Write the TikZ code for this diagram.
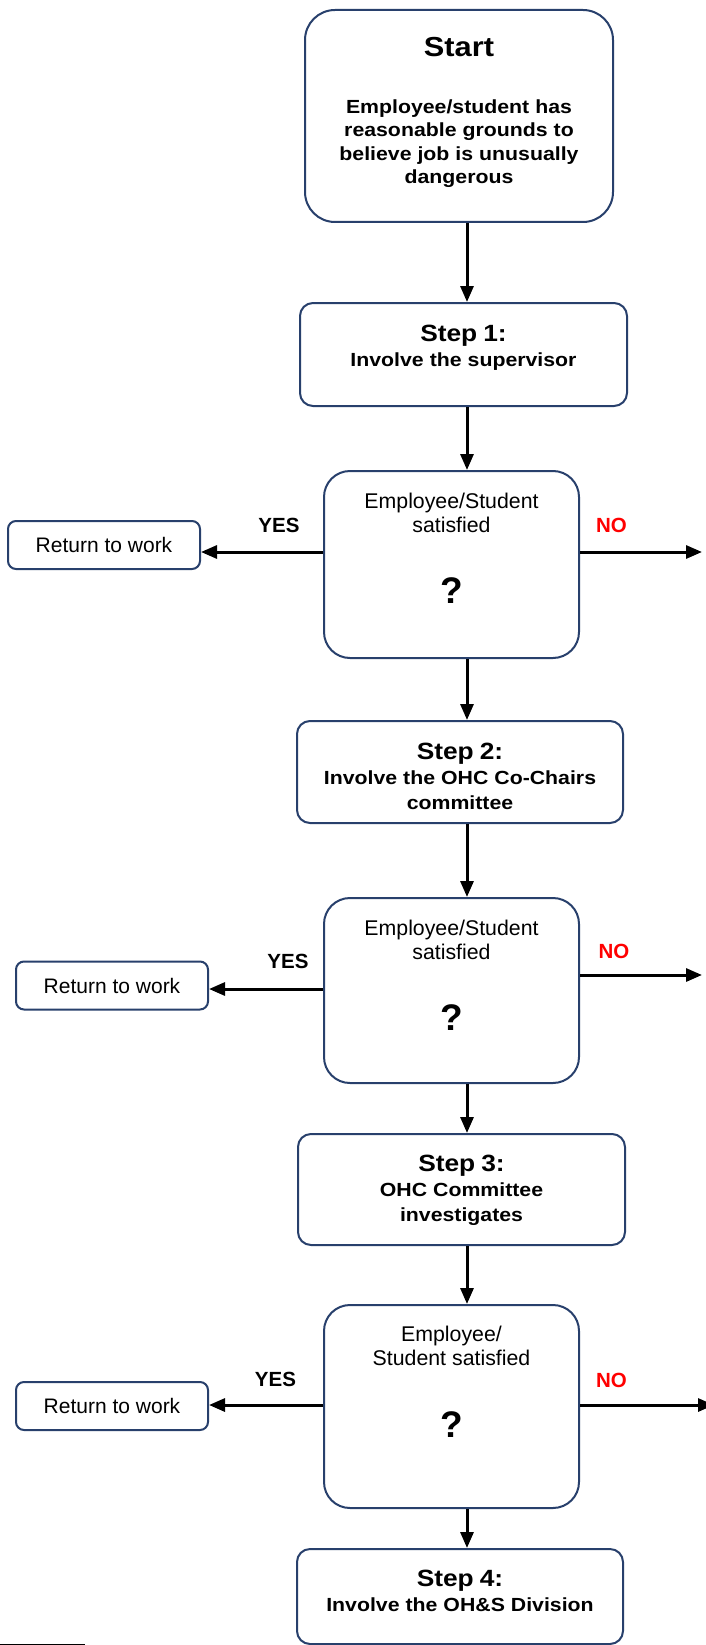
\documentclass[tikz,border=0pt]{standalone}
\usepackage{fontspec}
\setmainfont{Liberation Sans}
\newfontfamily\stepfont{Liberation Sans}[FakeStretch=1.12]
\usetikzlibrary{arrows.meta, positioning}
\definecolor{boxblue}{RGB}{40,64,108}
\newcommand\qmarkfont{\bfseries\fontsize{37}{24}\selectfont}

\begin{document}
\begin{tikzpicture}[x=1pt, y=-1pt,
    box/.style={draw=boxblue, line width=2pt, fill=white, inner sep=0pt, align=center, anchor=north},
    stepbox/.style={box, rounded corners=13pt, font=\stepfont\bfseries,
      execute at begin node={\fontsize{19}{25}\selectfont\spaceskip=6pt}},
    askbox/.style={box, rounded corners=26pt, text width=255pt, text height=37pt,
      execute at begin node={\fontsize{21.3}{24}\selectfont\spaceskip=6pt\lineskiplimit=-\maxdimen}},
    workbox/.style={draw=boxblue, line width=2pt, rounded corners=8pt, inner sep=0pt,
      minimum width=192pt, minimum height=48pt, font=\fontsize{21}{24}\selectfont},
    flow/.style={line width=3pt, -{Triangle[length=16pt, width=13pt]}},
    yeslabel/.style={font=\bfseries\fontsize{20.5}{24}\selectfont},
    nolabel/.style={yeslabel, text=red}
  ]
	% page
	\useasboundingbox (0,0) rectangle (705,1645);
	\fill[white] (0,0) rectangle (705,1645);

	% Draw the main column of boxes
	\node[stepbox, rounded corners=30pt, text width=308pt, text height=47pt, text depth=165pt,
	  execute at begin node={\fontsize{19}{23.5}\selectfont\spaceskip=6pt}] (start) at (459,9)
	  {{\fontsize{27.5}{24}\selectfont Start}\\[33pt] Employee/student has\\ reasonable grounds to\\ believe job is unusually\\ dangerous};

	\node[stepbox, text width=327pt, text height=38pt, text depth=65pt] (step1) at (463.5,302)
	  {{\fontsize{23.5}{25}\selectfont Step 1:}\\ Involve the supervisor};

	\node[askbox, text depth=150pt] (ask1) at (451.5,470)
	  {Employee/Student\\ satisfied\\[47pt] {\qmarkfont ?}};

	\node[stepbox, text width=326pt, text height=38pt, text depth=64pt] (step2) at (460,720)
	  {{\fontsize{23.5}{25}\selectfont Step 2:}\\ Involve the OHC Co-Chairs\\ committee};

	\node[askbox, text depth=148pt] (ask2) at (451.5,897)
	  {Employee/Student\\ satisfied\\[47pt] {\qmarkfont ?}};

	\node[stepbox, text width=327pt, text height=37pt, text depth=74pt] (step3) at (461.5,1133)
	  {{\fontsize{23.5}{25}\selectfont Step 3:}\\ OHC Committee\\ investigates};

	\node[askbox, text height=36pt, text depth=167pt] (ask3) at (451.5,1304)
	  {Employee/\\ Student satisfied\\[48pt] {\qmarkfont ?}};

	\node[stepbox, text width=326pt, text height=37pt, text depth=58pt] (step4) at (460,1548)
	  {{\fontsize{23.5}{25}\selectfont Step 4:}\\ Involve the OH\&S Division};

	% Draw the return boxes
	\node[workbox] (back1) at (104,545) {Return to work};
	\node[workbox] (back2) at (112,985.5) {Return to work};
	\node[workbox] (back3) at (112,1406) {Return to work};

	% Draw the arrows down the middle
	\coordinate (spine) at (467,0);
	\draw[flow] (start.south -| spine) -- (step1.north -| spine);
	\draw[flow] (step1.south -| spine) -- (ask1.north -| spine);
	\draw[flow] (ask1.south -| spine) -- (step2.north -| spine);
	\draw[flow] (step2.south -| spine) -- (ask2.north -| spine);
	\draw[flow] (ask2.south -| spine) -- (step3.north -| spine);
	\draw[flow] (step3.south -| spine) -- (ask3.north -| spine);
	\draw[flow] (ask3.south -| spine) -- (step4.north -| spine);

	% Draw the YES / NO arrows
	\coordinate (row1) at (0,552);
	\coordinate (row2) at (0,989);
	\coordinate (row2n) at (0,975);
	\coordinate (row3) at (0,1405);
	\coordinate (out1) at (702,552);
	\coordinate (out2) at (702,975);
	\coordinate (out3) at (714,1405);

	\draw[flow] (ask1.west |- row1) -- (back1.east |- row1);
	\draw[flow] (ask1.east |- row1) -- (out1);
	\draw[flow] (ask2.west |- row2) -- (back2.east |- row2);
	\draw[flow] (ask2.east |- row2n) -- (out2);
	\draw[flow] (ask3.west |- row3) -- (back3.east |- row3);
	\draw[flow] (ask3.east |- row3) -- (out3);

	\node[yeslabel] (yes1) at (279,525.5) {YES};
	\node[nolabel] (no1) at (611.5,525.5) {NO};
	\node[yeslabel] (yes2) at (288,961) {YES};
	\node[nolabel] (no2) at (614,951) {NO};
	\node[yeslabel] (yes3) at (275.5,1379.5) {YES};
	\node[nolabel] (no3) at (611.5,1380) {NO};

	% footnote rule
	\draw[line width=1pt] (0,1644) -- (85,1644);
\end{tikzpicture}
\end{document}
